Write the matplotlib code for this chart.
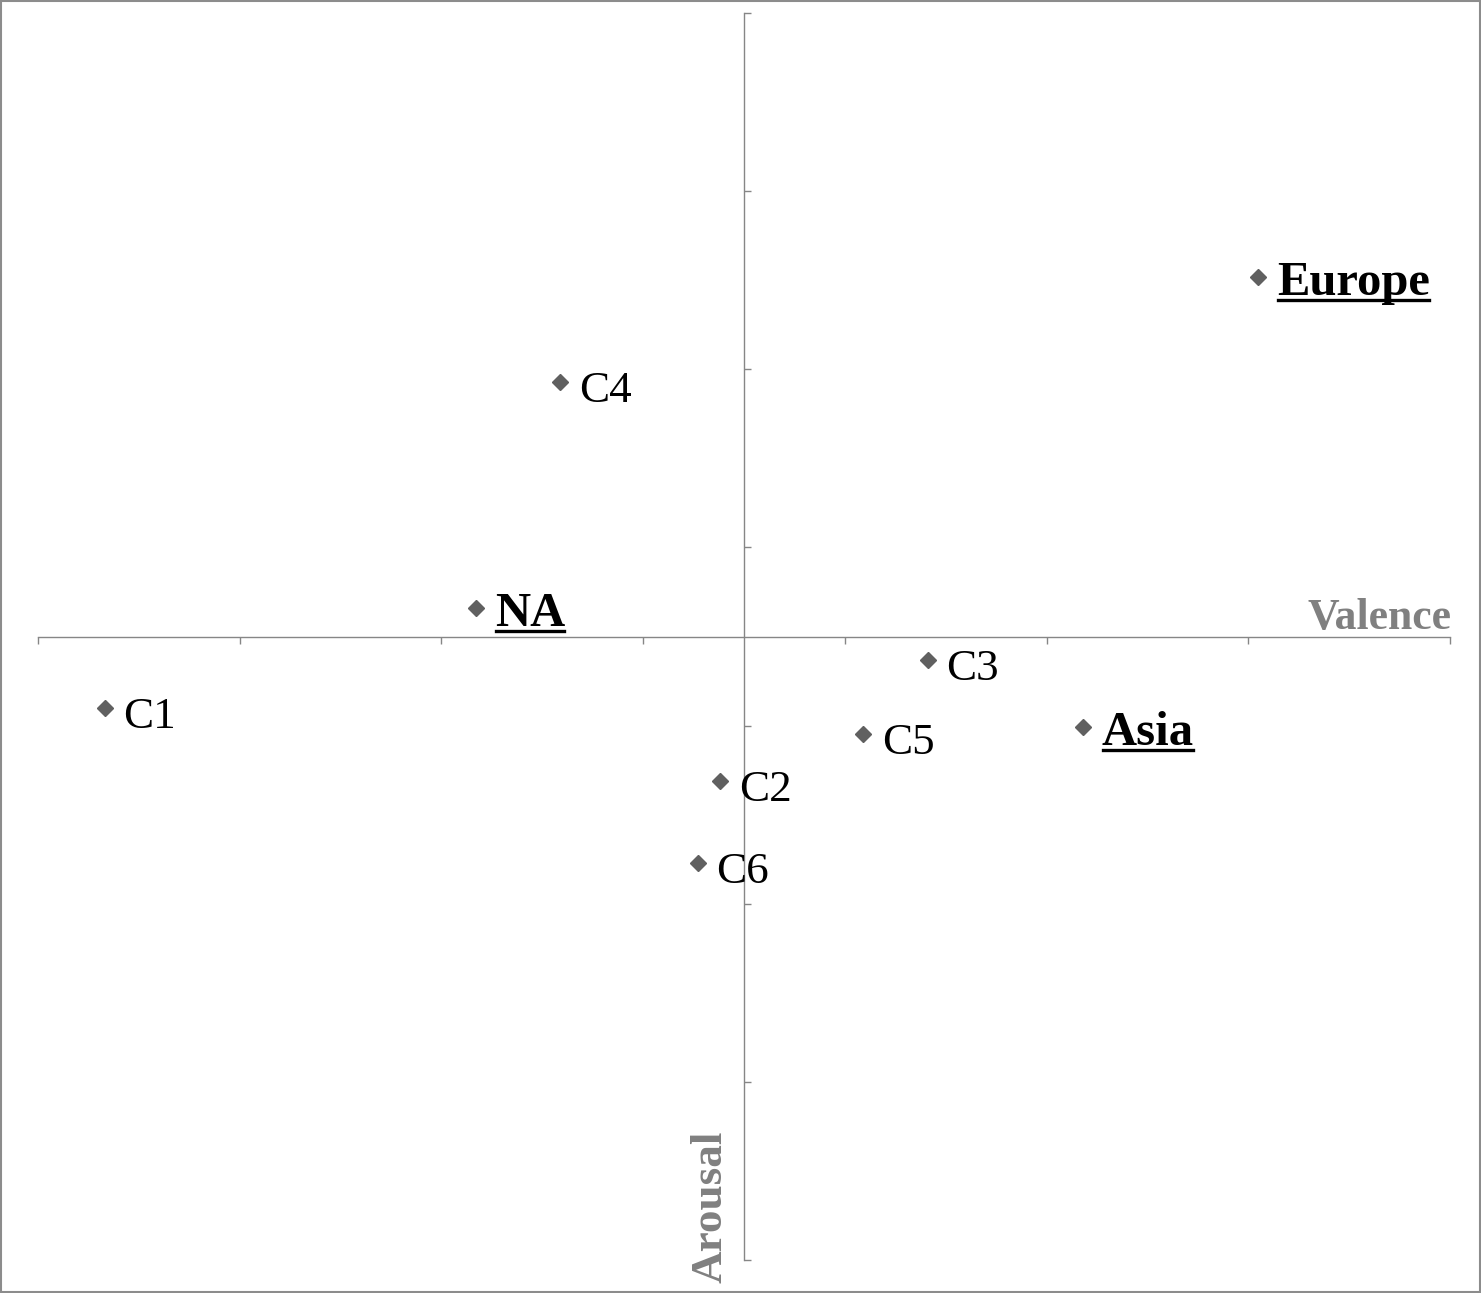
import matplotlib.pyplot as plt
from matplotlib.lines import Line2D
from matplotlib.patches import Rectangle
import numpy as np

# values (valence, arousal)
names = ['Europe', 'C4', 'NA', 'C1', 'C3', 'C5', 'Asia', 'C2', 'C6']
valence = [2.55, -0.91, -1.33, -3.17, 0.91, 0.59, 1.68, -0.12, -0.23]
arousal = [2.02, 1.43, 0.16, -0.40, -0.13, -0.55, -0.51, -0.81, -1.27]
highlight = ['Europe', 'NA', 'Asia']
ticks = [-3.5, -2.5, -1.5, -0.5, 0.5, 1.5, 2.5, 3.5]

W, H = 1481, 1293
fig = plt.figure(figsize=(W / 100, H / 100), dpi=100)
ax = fig.add_axes([38 / W, 1 - 1260 / H, (1450 - 38) / W, (1260 - 13) / H])
ax.set_xlim(-3.5, 3.5)
ax.set_ylim(-3.5, 3.5)

axcol = '#868686'
for s in ['top', 'right']:
    ax.spines[s].set_visible(False)
ax.spines['left'].set_position('zero')
ax.spines['bottom'].set_position('zero')
ax.spines['left'].set_color(axcol)
ax.spines['bottom'].set_color(axcol)
ax.spines['left'].set_linewidth(1.0)
ax.spines['bottom'].set_linewidth(1.0)
ax.set_xticks(ticks)
ax.set_yticks(ticks)
ax.set_xticklabels([])
ax.set_yticklabels([])
ax.tick_params(axis='x', direction='out', length=5, color=axcol, width=1.0)
ax.tick_params(axis='y', direction='in', length=5, color=axcol, width=1.0)

ax.plot(valence, arousal, linestyle='none', marker='D', ms=8, color='#606060',
        clip_on=False)

px = 0.72  # points per pixel
font = 'Liberation Serif'
labels = []
for n, x, y in zip(names, valence, arousal):
    bold = n in highlight
    t = ax.annotate(n, (x, y), xytext=(19 * px, -(18 if bold else 20) * px),
                    textcoords='offset points', ha='left', va='baseline',
                    fontsize=35 if bold else 32.5, family=font,
                    fontweight='bold' if bold else 'normal', color='black',
                    annotation_clip=False)
    if bold:
        labels.append(t)

ax.annotate('Valence', (3.5, 0), xytext=(1 * px, 8 * px), textcoords='offset points',
            ha='right', va='baseline', fontsize=31.5, family=font, fontweight='bold',
            color='#808080', annotation_clip=False)
ax.annotate('Arousal', (0, -3.5), xytext=(-22 * px, -23 * px), textcoords='offset points',
            ha='left', va='baseline', rotation=90, rotation_mode='anchor',
            fontsize=32.5, family=font, fontweight='bold', color='#808080',
            annotation_clip=False)

# underline the highlighted labels
fig.canvas.draw()
inv = fig.transFigure.inverted()
for t in labels:
    bb = t.get_window_extent()
    base = ax.transData.transform(t.xy)[1] - 18
    p0 = inv.transform((bb.x0 + 1, base - 5))
    p1 = inv.transform((bb.x1 - 1, base - 5))
    fig.add_artist(Line2D([p0[0], p1[0]], [p0[1], p1[1]], color='black', lw=2.4))

fig.add_artist(Rectangle((0.001, 0.001), 0.998, 0.998, transform=fig.transFigure,
                         fill=False, edgecolor='#8c8c8c', lw=1.5))

fig.savefig('out.png', dpi=100)
